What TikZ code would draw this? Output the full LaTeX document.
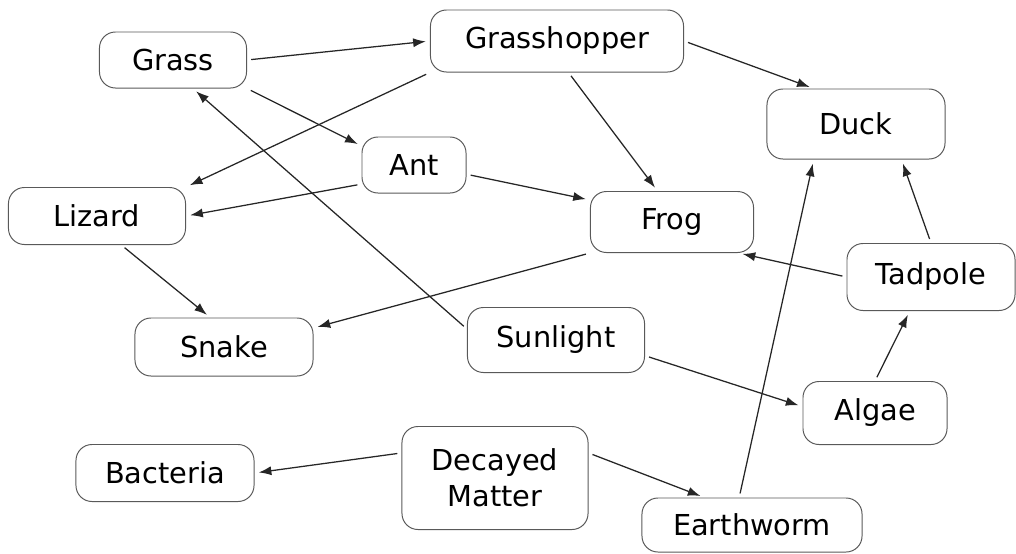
\documentclass[tikz,border=0pt]{standalone}
\usepackage{fontspec}
\setmainfont{DejaVu Sans}
\usetikzlibrary{arrows.meta}

\tikzset{
	organism/.style = {draw = black!65, line width = 0.7pt, rounded corners = 0.4cm,
		inner sep = 0pt, align = center, font = \fontsize{20.5}{25.5}\selectfont},
	feeds/.style = {->, draw = black!85, line width = 0.9pt, shorten < = 3pt, shorten > = 3pt}
}

\begin{document}
\begin{tikzpicture}[> = {Latex[length = 9pt, width = 6.5pt]}, x = 0.025cm, y = -0.025cm]

	\useasboundingbox (0, 0) rectangle (1016, 553);

	% The organisms

	\node [organism, minimum width = 3.675cm, minimum height = 1.4cm] (grass) at (173, 60) {Grass};
	\node [organism, minimum width = 6.325cm, minimum height = 1.55cm] (hopper) at (557, 41) {Grasshopper};
	\node [organism, minimum width = 4.45cm, minimum height = 1.75cm] (duck) at (856, 124) {Duck};
	\node [organism, minimum width = 2.6cm, minimum height = 1.4cm] (ant) at (414, 165) {Ant};
	\node [organism, minimum width = 4.425cm, minimum height = 1.425cm] (lizard) at (97, 216) {Lizard};
	\node [organism, minimum width = 4.075cm, minimum height = 1.525cm] (frog) at (672, 222) {Frog};
	\node [organism, minimum width = 4.2cm, minimum height = 1.675cm] (tadpole) at (931, 277) {Tadpole};
	\node [organism, minimum width = 4.45cm, minimum height = 1.45cm] (snake) at (224, 347) {Snake};
	\node [organism, minimum width = 4.425cm, minimum height = 1.625cm] (sunlight) at (556, 340) {Sunlight};
	\node [organism, minimum width = 3.6cm, minimum height = 1.575cm] (algae) at (875, 413) {Algae};
	\node [organism, minimum width = 4.45cm, minimum height = 1.425cm] (bacteria) at (165, 473) {Bacteria};
	\node [organism, minimum width = 4.65cm, minimum height = 2.575cm] (decayed) at (495, 478) {Decayed\\Matter};
	\node [organism, minimum width = 5.5cm, minimum height = 1.35cm] (earthworm) at (752, 525) {Earthworm};

	% Who eats whom

	\begin{scope}[feeds]

		\draw (grass.east) -- (hopper.west);
		\draw (grass.south east) -- (ant.160);
		\draw (hopper.south west) -- (lizard.north east);
		\draw (hopper.east) -- (duck.140);
		\draw (hopper.290) -- (frog.115);
		\draw (ant.200) -- (lizard.east);
		\draw (ant.350) -- (frog.165);
		\draw (lizard.-50) -- (snake.115);
		\draw (frog.south west) -- (snake.12);
		\draw (tadpole.west) -- (frog.-25);
		\draw (tadpole.north) -- (duck.-38);
		\draw (algae.north) -- (tadpole.-122);
		\draw (earthworm.115) -- (duck.-140);

	\end{scope}

	% Energy and decay

	\begin{scope}[feeds]

		\draw (sunlight.173) -- (grass.-55);
		\draw (sunlight.-10) -- (algae.175);
		\draw (decayed.165) -- (bacteria.east);
		\draw (decayed.15) -- (earthworm.150);

	\end{scope}

\end{tikzpicture}
\end{document}
